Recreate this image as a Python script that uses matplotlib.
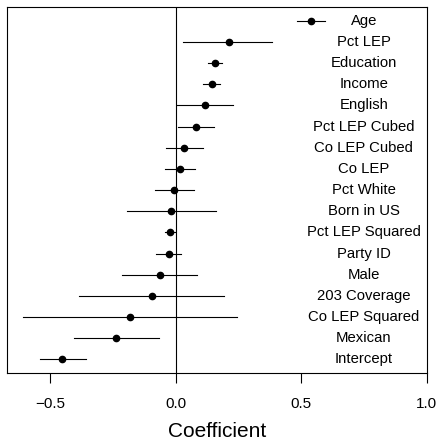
import matplotlib
matplotlib.use("Agg")
import matplotlib.pyplot as plt

# ─── DATA ─────────────────────────────────────────────────────────────────────
labels = ["Age", "Pct LEP", "Education", "Income", "English", "Pct LEP Cubed",
          "Co LEP Cubed", "Co LEP", "Pct White", "Born in US", "Pct LEP Squared",
          "Party ID", "Male", "203 Coverage", "Co LEP Squared", "Mexican", "Intercept"]
est = [0.540, 0.211, 0.158, 0.143, 0.118, 0.083, 0.033, 0.017, -0.005, -0.017,
       -0.022, -0.028, -0.064, -0.096, -0.181, -0.237, -0.451]
lo = [0.485, 0.031, 0.128, 0.110, 0.007, 0.011, -0.037, -0.044, -0.084, -0.194,
      -0.044, -0.077, -0.214, -0.387, -0.609, -0.405, -0.540]
hi = [0.595, 0.385, 0.183, 0.175, 0.229, 0.152, 0.107, 0.077, 0.075, 0.160,
      -0.003, 0.020, 0.085, 0.194, 0.245, -0.066, -0.359]
xticks = [-0.5, 0.0, 0.5, 1.0]
LABEL_X = 0.75

# ─── STYLE ────────────────────────────────────────────────────────────────────
plt.rcParams["font.family"] = ["Liberation Sans", "DejaVu Sans"]

fig = plt.figure(figsize=(4.38, 4.42), dpi=100)
ax = fig.add_axes([0.016, 0.156, 0.958, 0.828])

n = len(labels)
ys = list(range(n, 0, -1))
for y, e, l, h, name in zip(ys, est, lo, hi, labels):
    ax.plot([l, h], [y, y], color="black", lw=0.8)
    ax.plot(e, y, "o", color="black", ms=4.5)
    ax.text(LABEL_X, y, name, ha="center", va="center", fontsize=10.7)

ax.axvline(0, color="black", lw=0.8)
ax.set_xlim(-0.672, 1.0)
ax.set_ylim(0.36, n + 0.64)
ax.set_yticks([])
ax.set_xticks(xticks)
ax.set_xticklabels(["\u22120.5", "0.0", "0.5", "1.0"])
ax.tick_params(axis="x", length=7, width=0.8, labelsize=11, pad=10)
for sp in ax.spines.values():
    sp.set_linewidth(0.8)
ax.set_xlabel("Coefficient", fontsize=15, labelpad=8)

fig.savefig("out.png", dpi=100)
